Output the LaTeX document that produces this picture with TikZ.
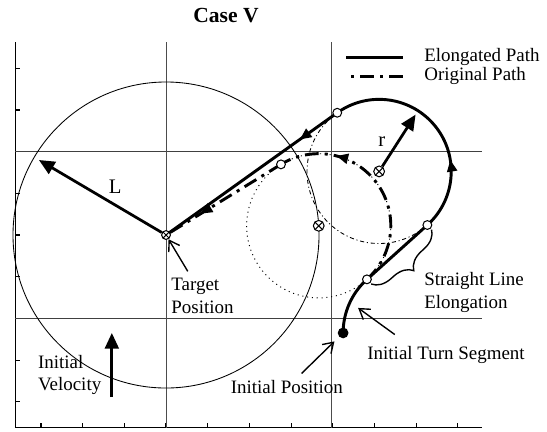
\documentclass[tikz,border=0pt]{standalone}
\usepackage{fontspec}
\setmainfont{Liberation Serif}
\usetikzlibrary{arrows.meta,decorations.markings,decorations.pathreplacing,backgrounds}

\begin{document}
\begin{tikzpicture}[
  x=0.85cm, y=0.85cm,
  font=\fontsize{11}{13}\selectfont,
  axis/.style    ={line width=0.6pt},
  grid/.style    ={line width=0.45pt, draw=black!75},
  vgrid/.style   ={line width=0.45pt, draw=black!70},
  reach/.style   ={line width=0.5pt},
  circa/.style   ={line width=0.55pt, dash pattern=on 0.6pt off 2.2pt},
  circb/.style   ={line width=0.5pt, dash pattern=on 2.4pt off 1.6pt on 0.6pt off 1.6pt},
  elong/.style   ={line width=1.7pt},
  orig/.style    ={line width=1.7pt, dash pattern=on 8pt off 3.5pt on 1.8pt off 3.5pt},
  midarrow/.style={decoration={markings, mark=at position #1 with {\arrow{Triangle[length=2.4mm,width=2mm]}}},
                   postaction={decorate}},
  vec/.style     ={line width=1.6pt, -{Triangle[length=3.2mm,width=2.8mm]}},
  callout/.style ={line width=0.8pt, -{Straight Barb[length=2mm,width=2.6mm]}},
  tanpt/.style   ={circle, draw, fill=white, line width=0.6pt, inner sep=0pt, minimum size=1.8mm},
  ctr/.style     ={circle, draw, fill=white, line width=0.6pt, inner sep=0pt, minimum size=2.2mm,
                   path picture={\draw (path picture bounding box.north east) -- (path picture bounding box.south west)
                                       (path picture bounding box.north west) -- (path picture bounding box.south east);}},
  startpt/.style ={circle, fill=black, inner sep=0pt, minimum size=2.2mm},
  lbl/.style     ={align=left, inner sep=1pt},
]
\useasboundingbox (-3.984,-4.704) rectangle (9.143,5.640);

% Turn centres and path points (turn radius r = 1.73)
\node[ctr, minimum size=1.8mm] (t) at (0,0) {};
\node[ctr]     (ca) at (3.665,0.221) {};
\node[ctr]     (cb) at (5.114,1.526) {};
\node[startpt] (p0) at (4.25,-2.35) {};
\node[tanpt]   (e1) at (4.822,-1.064) {};
\node[tanpt]   (e2) at (6.272,0.240) {};
\node[tanpt]   (qa) at (2.759,1.695) {};
\node[tanpt]   (qb) at (4.109,2.934) {};
\coordinate (ltip)    at (-3.05,1.80);
\coordinate (rtip)    at (5.99,2.89);
\coordinate (vbase)   at (-1.30,-3.89);
\coordinate (vtip)    at (-1.30,-2.35);
\coordinate (turnpt)  at (4.61,-1.75);

% Labels
\node[font=\bfseries\fontsize{12.5}{15}\selectfont] (title) at (1.44,5.26) {Case V};
\node[lbl, anchor=west] (legel)   at (6.15,4.27) {Elongated Path};
\node[lbl, anchor=west] (legor)   at (6.15,3.81) {Original Path};
\node[font=\fontsize{12}{14}\selectfont] (llbl) at (-1.22,1.15) {L};
\node[font=\fontsize{12}{14}\selectfont] (rlbl) at (5.18,2.23) {r};
\node[lbl, anchor=west] (tgtlbl)  at (0.08,-1.46) {Target\\Position};
\node[lbl, anchor=west] (vellbl)  at (-3.12,-3.36) {Initial\\Velocity};
\node[lbl]              (poslbl)  at (2.90,-3.65) {Initial Position};
\node[lbl]              (turnlbl) at (6.72,-2.88) {Initial Turn Segment};
\node[lbl, anchor=west] (elglbl)  at (6.15,-1.38) {Straight Line\\Elongation};

% Legend samples
\draw[elong] ([xshift=-4mm]legel.west) -- ++(-1.15cm,0);
\draw[orig]  ([xshift=-4mm]legor.west) -- ++(-1.15cm,0);

% Vectors and call-outs
\draw[vec] (t) -- (ltip);
\draw[vec] (cb) -- (rtip);
\draw[vec] (vbase) -- (vtip);
\draw[callout] ([xshift=-3mm,yshift=1mm]tgtlbl.north) -- (t);
\draw[callout, shorten >=1.3mm] ([xshift=3mm,yshift=1mm]poslbl.north) -- (p0);
\draw[callout] ([xshift=6mm,yshift=2mm]turnlbl.north west) -- (turnpt);
\draw[decorate, decoration={brace, amplitude=3.8mm}, line width=0.8pt]
  ([shift={(-48:0.15)}]e2.center) -- ([shift={(-48:0.15)}]e1.center);

\begin{scope}[on background layer]
  % axes, ticks and grid
  \draw[axis] (-3.62,4.63) -- (-3.62,-4.63) -- (7.58,-4.63);
  \foreach \v in {-4,...,4} \draw[axis] (-3.62,\v) -- ++(0.12,0);
  \foreach \u in {-3,...,7} \draw[axis] (\u,-4.63) -- ++(0,0.12);
  \draw[grid] (-3.62,2) -- (7.58,2) (-3.62,-2) -- (7.58,-2);
  \draw[vgrid] (0,4.63) -- (0,-4.63) (3.97,4.63) -- (3.97,-4.63);
  % reach circle and turn circles
  \draw[reach] (t.center) circle[radius=3.672];
  \draw[circa] (ca.center) circle[radius=1.73];
  \draw[circb] (cb.center) circle[radius=1.73];
  % elongated path
  \draw[elong] (p0.center) arc[start angle=180, end angle=132, radius=1.73] -- (e2.center);
  \draw[elong, midarrow=0.33] (e2.center) arc[start angle=-48, end angle=125.53, radius=1.73];
  \draw[elong, midarrow=0.22] (qb.center) -- (t.center);
  % original path
  \draw[orig, midarrow=0.73] (e1.center) arc[start angle=-48, end angle=121.56, radius=1.73];
  \draw[orig, midarrow=0.7] (qa.center) -- (t.center);
\end{scope}
\end{tikzpicture}
\end{document}
